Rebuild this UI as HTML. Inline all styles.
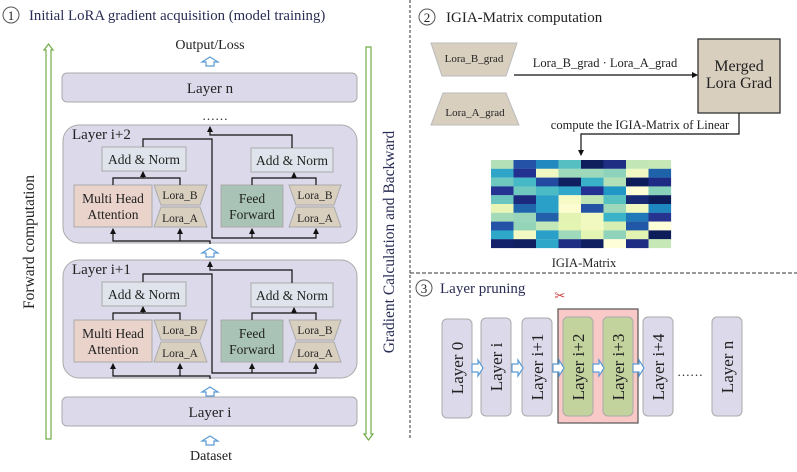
<!DOCTYPE html>
<html><head><meta charset="utf-8"><style>body{margin:0;background:#fff}svg{display:block}text{font-family:"Liberation Serif",serif;fill:#222}</style></head><body>
<svg width="797" height="472" viewBox="0 0 797 472" xmlns="http://www.w3.org/2000/svg">
<defs>
<marker id="ah" markerWidth="6" markerHeight="6" refX="5" refY="3" orient="auto" markerUnits="userSpaceOnUse"><path d="M0,0 L6,3 L0,6 z" fill="#111"/></marker>
<g id="blk">
<rect x="63" y="125" width="294" height="118" rx="16" fill="#dcdaea" stroke="#aaa"/>
<rect x="102" y="147" width="84" height="24" fill="#dfe4ec" stroke="#aaa"/>
<text x="144" y="164" font-size="13.5" text-anchor="middle">Add &amp; Norm</text>
<rect x="251" y="148" width="82" height="24" fill="#dfe4ec" stroke="#aaa"/>
<text x="292" y="165" font-size="13.5" text-anchor="middle">Add &amp; Norm</text>
<rect x="74" y="185" width="78" height="42" fill="#ead3cb" stroke="#aaa"/>
<text x="113" y="203" font-size="13.5" text-anchor="middle">Multi Head</text>
<text x="113" y="219" font-size="13.5" text-anchor="middle">Attention</text>
<polygon points="154,185 207,185 200,205 161,205" fill="#d9cfbf" stroke="#aaa"/>
<text x="180" y="199" font-size="11.5" text-anchor="middle">Lora_B</text>
<polygon points="161,207 200,207 207,227 154,227" fill="#d9cfbf" stroke="#aaa"/>
<text x="180" y="222" font-size="11.5" text-anchor="middle">Lora_A</text>
<rect x="221" y="185" width="62" height="42" fill="#a9c4b6" stroke="#aaa"/>
<text x="252" y="203" font-size="13.5" text-anchor="middle">Feed</text>
<text x="252" y="219" font-size="13.5" text-anchor="middle">Forward</text>
<polygon points="289,185 341,185 334,205 296,205" fill="#d9cfbf" stroke="#aaa"/>
<text x="315" y="199" font-size="11.5" text-anchor="middle">Lora_B</text>
<polygon points="296,207 334,207 341,227 289,227" fill="#d9cfbf" stroke="#aaa"/>
<text x="315" y="222" font-size="11.5" text-anchor="middle">Lora_A</text>
<g fill="none" stroke="#111" stroke-width="1.2">
<path d="M143,147 V139 H212 V238 H316 V229" marker-end="url(#ah)"/>
<path d="M252,238 V229" marker-end="url(#ah)"/>
<path d="M210,244 V241 H113 V229" marker-end="url(#ah)"/>
<path d="M180,241 V229" marker-end="url(#ah)"/>
<path d="M292,148 V135 H210 V127" marker-end="url(#ah)"/>
<path d="M113,185 V178 H180 V185"/>
<path d="M143,178 V172" marker-end="url(#ah)"/>
<path d="M252,185 V178 H316 V185"/>
<path d="M294,178 V173" marker-end="url(#ah)"/>
</g>
</g>
<polygon id="ua" points="0,0 8,5 4,5 4,9 -4,9 -4,5 -8,5" fill="#fff" stroke="#5b9bd5" stroke-width="1.2"/>
<polygon id="ra" points="0,-4 6,-4 6,-8 11,0 6,8 6,4 0,4" fill="#fff" stroke="#5b9bd5" stroke-width="1.2"/>
</defs>

<circle cx="11" cy="15" r="8" fill="#fff" stroke="#555"/>
<text x="11" y="20" font-size="13" text-anchor="middle">1</text>
<text x="29" y="20" font-size="14.8" style="fill:#2a2d55">Initial LoRA gradient acquisition (model training)</text>
<text x="210" y="49" font-size="14" text-anchor="middle">Output/Loss</text>
<use href="#ua" x="210" y="57"/>
<rect x="62" y="73" width="295" height="29" rx="5" fill="#dcdaea" stroke="#aaa"/>
<text x="210" y="93" font-size="15" text-anchor="middle">Layer n</text>
<text x="215" y="120" font-size="13" text-anchor="middle">……</text>
<use href="#blk"/>
<text x="72" y="139" font-size="15">Layer i+2</text>
<use href="#ua" x="210" y="248"/>
<use href="#blk" y="135"/>
<text x="72" y="274" font-size="15">Layer i+1</text>
<use href="#ua" x="210" y="387"/>
<rect x="62" y="397" width="295" height="29" rx="5" fill="#dcdaea" stroke="#aaa"/>
<text x="210" y="417" font-size="15" text-anchor="middle">Layer i</text>
<use href="#ua" x="210" y="436"/>
<text x="211" y="460" font-size="14" text-anchor="middle">Dataset</text>
<polygon points="48.5,44 53,50 51,50 51,439 46,439 46,50 44,50" fill="#fff" stroke="#70ad47" stroke-width="1.2"/>
<polygon points="366,47 371,47 371,434 373,434 368.5,440 364,434 366,434" fill="#fff" stroke="#70ad47" stroke-width="1.2"/>
<text transform="translate(34,242) rotate(-90)" font-size="15.5" text-anchor="middle">Forward computation</text>
<text transform="translate(394,242) rotate(-90)" font-size="15.5" text-anchor="middle" style="fill:#2a2d55">Gradient Calculation and Backward</text>

<line x1="410" y1="0" x2="410" y2="440" stroke="#333" stroke-dasharray="3,2"/>
<line x1="410" y1="273" x2="797" y2="273" stroke="#333" stroke-dasharray="4,2"/>

<circle cx="427" cy="17" r="8" fill="#fff" stroke="#555"/>
<text x="427" y="22" font-size="13" text-anchor="middle">2</text>
<text x="446" y="22" font-size="15">IGIA-Matrix computation</text>
<polygon points="431,43 517,43 506,76 442,76" fill="#d9cfbf" stroke="#bbb"/>
<text x="474" y="62" font-size="11" text-anchor="middle">Lora_B_grad</text>
<polygon points="443,93 506,93 519,125 431,125" fill="#d9cfbf" stroke="#bbb"/>
<text x="475" y="116" font-size="11" text-anchor="middle">Lora_A_grad</text>
<line x1="514" y1="75" x2="697" y2="75" stroke="#111" stroke-width="1.2" marker-end="url(#ah)"/>
<text x="605" y="67" font-size="12.5" text-anchor="middle">Lora_B_grad · Lora_A_grad</text>
<rect x="698" y="39" width="82" height="74" fill="#d9cfbf" stroke="#333" stroke-width="1.3"/>
<text x="739" y="71" font-size="16" text-anchor="middle">Merged</text>
<text x="739" y="88" font-size="16" text-anchor="middle">Lora Grad</text>
<path d="M739,113 V134 H581 V155" fill="none" stroke="#111" stroke-width="1.2" marker-end="url(#ah)"/>
<text x="640" y="129" font-size="12.5" text-anchor="middle">compute the IGIA-Matrix of Linear</text>
<g id="mat"></g>
<text x="584" y="267" font-size="12.5" text-anchor="middle">IGIA-Matrix</text>

<circle cx="424" cy="288" r="8" fill="#fff" stroke="#555"/>
<text x="424" y="293" font-size="13" text-anchor="middle">3</text>
<text x="440" y="293" font-size="15" style="fill:#2a2d55">Layer pruning</text>
<text x="560" y="300" font-size="13" text-anchor="middle" style="fill:#d04040">✂</text>
<rect x="558" y="309" width="80" height="114" fill="#f8c9c6" stroke="#555" stroke-width="1.2"/>
<rect x="442" y="319" width="30" height="99" rx="5" fill="#dcdaea" stroke="#aaa"/>
<text transform="translate(463,368) rotate(-90)" text-anchor="middle" font-size="17">Layer 0</text>
<rect x="481" y="318" width="30" height="98" rx="5" fill="#dcdaea" stroke="#aaa"/>
<text transform="translate(502,367) rotate(-90)" text-anchor="middle" font-size="17">Layer i</text>
<rect x="522" y="318" width="30" height="98" rx="5" fill="#dcdaea" stroke="#aaa"/>
<text transform="translate(543,367) rotate(-90)" text-anchor="middle" font-size="17">Layer i+1</text>
<rect x="563" y="317" width="30" height="99" rx="5" fill="#c3d39e" stroke="#aaa"/>
<text transform="translate(584,367) rotate(-90)" text-anchor="middle" font-size="17">Layer i+2</text>
<rect x="603" y="317" width="30" height="99" rx="5" fill="#c3d39e" stroke="#aaa"/>
<text transform="translate(624,367) rotate(-90)" text-anchor="middle" font-size="17">Layer i+3</text>
<rect x="643" y="317" width="30" height="99" rx="5" fill="#dcdaea" stroke="#aaa"/>
<text transform="translate(664,367) rotate(-90)" text-anchor="middle" font-size="17">Layer i+4</text>
<rect x="712" y="317" width="30" height="99" rx="5" fill="#dcdaea" stroke="#aaa"/>
<text transform="translate(733,367) rotate(-90)" text-anchor="middle" font-size="17">Layer n</text>
<text x="690" y="376" font-size="13" text-anchor="middle">……</text>
<use href="#ra" x="472" y="368"/>
<use href="#ra" x="512" y="368"/>
<use href="#ra" x="553" y="368"/>
<use href="#ra" x="593" y="368"/>
<use href="#ra" x="633" y="368"/>
</svg>
<script>
var c=[["#b4e0b8","#2352a6","#2189c0","#56bfc1","#0f1f5e","#1f2d83","#c2e6b6","#c6e8b6"],
["#2fa6c8","#243090","#eef8c0","#9fd9bb","#9fd9bb","#8dd3bb","#f0f9c4","#1e62aa"],
["#6ec8bf","#46b9c6","#2349a0","#0f1f60","#3aafc8","#b4e0b8","#0d1d5c","#1d2b85"],
["#253493","#6fc9bf","#4bbcc6","#31a8c9","#233292","#2197c5","#fdfed6","#88d1bb"],
["#6bc6bf","#1c2a7e","#2aa0c8","#f6fbc6","#c0e5b5","#57c0c1","#182a74","#0c1d5a"],
["#e9f5b4","#2066ad","#2aa0c8","#fbfdd1","#2453a5","#9dd8ba","#eff8bf","#1f87bf"],
["#a3dbb8","#9ad6b9","#2260a9","#e2f3b2","#f1f9c1","#3ab2c8","#1f78b8","#26338f"],
["#2352a6","#94d4b8","#c3e7b6","#e4f4b2","#f2f9c0","#d8efb3","#2157a7","#fefed8"],
["#2ea7c8","#f3f9c2","#2a9fc8","#9fd9bb","#e3f4b3","#8fd3ba","#e2f3b2","#0c1d5a"],
["#13216a","#0f1f60","#2ea7c8","#1f2d83","#0f1f60","#fefed8","#1f2d83","#c6e8b6"]];
var g=document.getElementById("mat"),s="";
for(var r=0;r<10;r++)for(var k=0;k<8;k++){s+='<rect x="'+(491+k*22.5)+'" y="'+(160+r*8.8)+'" width="22.6" height="8.9" fill="'+c[r][k]+'"/>';}
g.innerHTML=s;
</script>
</body></html>
